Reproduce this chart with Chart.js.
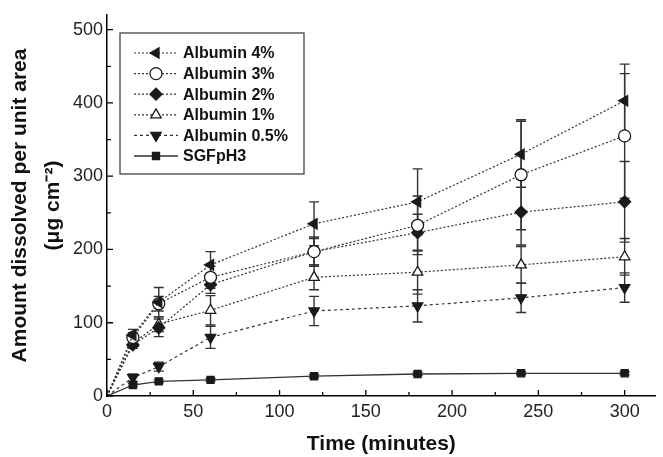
<!DOCTYPE html>
<html>
<head>
<meta charset="utf-8">
<script src="https://cdn.jsdelivr.net/npm/chart.js@4.4.0/dist/chart.umd.min.js"></script>
<style>
  html, body { margin: 0; padding: 0; background: #fff; }
  #wrap { width: 663px; height: 457px; }
</style>
</head>
<body>
<div id="wrap"><canvas id="dissolutionChart" width="663" height="457"></canvas></div>
<script>
// sampling times (minutes)
const times = [0, 15, 30, 60, 120, 180, 240, 300];

const seriesNames = ["Albumin 4%", "Albumin 3%", "Albumin 2%", "Albumin 1%", "Albumin 0.5%", "SGFpH3"];

// amount dissolved per unit area (ug cm-2)
const alb4 = [0, 83, 128, 179, 235, 265, 330, 403];
const alb3 = [0, 80, 126, 162, 197, 233, 302, 355];
const alb2 = [0, 70, 93, 152, 197, 223, 251, 265];
const alb1 = [0, 72, 98, 117, 162, 169, 179, 190];
const alb05 = [0, 25, 40, 80, 116, 123, 134, 148];
const sgf = [0, 15, 20, 22, 27, 30, 31, 31];

// error bar half-heights
const alb4Err = [0, 8, 20, 18, 30, 45, 45, 50];
const alb3Err = [0, 6, 10, 15, 20, 40, 75, 85];
const alb2Err = [0, 5, 12, 12, 18, 25, 45, 55];
const alb1Err = [0, 5, 10, 20, 17, 30, 25, 25];
const alb05Err = [0, 5, 6, 15, 20, 22, 20, 20];
const sgfErr = [0, 2, 2, 2, 2, 2, 2, 2];

const xTicks = [0, 50, 100, 150, 200, 250, 300];
const yTicks = [0, 100, 200, 300, 400, 500];

const ink = "#1a1a1a";
const family = "'Liberation Sans', Arial, sans-serif";

function toPoints(vals) {
  return vals.map((v, i) => ({ x: times[i], y: v }));
}

function makeSet(label, vals, errs, style, rotation, filled, dash) {
  return {
    label: label,
    data: toPoints(vals),
    errors: errs,
    borderColor: "#333",
    borderWidth: dash ? 1.2 : 1.3,
    borderDash: dash || [],
    pointStyle: style,
    rotation: rotation,
    pointRadius: vals.map((v, i) => i === 0 ? 0 : (style === "rect" ? 5 : 6)),
    pointBackgroundColor: filled ? ink : "#fff",
    pointBorderColor: ink,
    pointBorderWidth: 1.3,
    tension: 0,
    fill: false
  };
}

// error bars under the markers
const errorBars = {
  id: "errorBars",
  beforeDatasetsDraw(chart) {
    const { ctx, scales: { x, y } } = chart;
    ctx.save();
    ctx.strokeStyle = "#333";
    ctx.lineWidth = 1.4;
    ctx.setLineDash([]);
    chart.data.datasets.forEach(ds => {
      ds.data.forEach((p, i) => {
        const e = ds.errors[i];
        if (!e) return;
        const px = x.getPixelForValue(p.x);
        const top = y.getPixelForValue(p.y + e);
        const bot = y.getPixelForValue(p.y - e);
        ctx.beginPath();
        ctx.moveTo(px, top); ctx.lineTo(px, bot);
        ctx.moveTo(px - 5, top); ctx.lineTo(px + 5, top);
        ctx.moveTo(px - 5, bot); ctx.lineTo(px + 5, bot);
        ctx.stroke();
      });
    });
    ctx.restore();
  }
};

// inward major + minor ticks
const innerTicks = {
  id: "innerTicks",
  afterDraw(chart) {
    const { ctx, scales: { x, y } } = chart;
    ctx.save();
    ctx.strokeStyle = "#000";
    ctx.lineWidth = 1.3;
    ctx.beginPath();
    for (let v = 0; v <= 300; v += 25) {
      const px = x.getPixelForValue(v);
      const len = v % 50 === 0 ? 6 : 4;
      ctx.moveTo(px, y.bottom); ctx.lineTo(px, y.bottom - len);
    }
    for (let v = 0; v <= 500; v += 50) {
      const py = y.getPixelForValue(v);
      const len = v % 100 === 0 ? 6 : 4;
      ctx.moveTo(x.left, py); ctx.lineTo(x.left + len, py);
    }
    ctx.stroke();
    ctx.restore();
  }
};

// boxed legend inside the plot
const boxLegend = {
  id: "boxLegend",
  afterDraw(chart) {
    const ctx = chart.ctx;
    const left = 120, top = 33, w = 184, h = 141;
    ctx.save();
    ctx.strokeStyle = "#444";
    ctx.lineWidth = 1.3;
    ctx.setLineDash([]);
    ctx.strokeRect(left, top, w, h);
    ctx.font = "bold 16px " + family;
    ctx.textBaseline = "middle";
    chart.data.datasets.forEach((ds, i) => {
      const cy = top + 20 + i * 20.6;
      ctx.strokeStyle = "#333";
      ctx.lineWidth = ds.borderWidth;
      ctx.setLineDash(ds.borderDash);
      ctx.beginPath();
      ctx.moveTo(left + 14, cy); ctx.lineTo(left + 58, cy);
      ctx.stroke();
      ctx.setLineDash([]);
      ctx.fillStyle = ds.pointBackgroundColor;
      ctx.strokeStyle = ds.pointBorderColor;
      ctx.lineWidth = ds.pointBorderWidth;
      Chart.helpers.drawPoint(ctx, {
        pointStyle: ds.pointStyle,
        rotation: ds.rotation,
        radius: ds.pointStyle === "rect" ? 5 : 6,
        borderWidth: ds.pointBorderWidth
      }, left + 36, cy);
      ctx.fillStyle = "#111";
      ctx.fillText(ds.label, left + 63, cy + 1);
    });
    ctx.restore();
  }
};

const ctx = document.getElementById("dissolutionChart").getContext("2d");

new Chart(ctx, {
  type: "line",
  data: {
    datasets: [
      makeSet(seriesNames[0], alb4, alb4Err, "triangle", -90, true, [2, 2]),
      makeSet(seriesNames[1], alb3, alb3Err, "circle", 0, false, [2, 2]),
      makeSet(seriesNames[2], alb2, alb2Err, "rectRot", 0, true, [2, 2]),
      makeSet(seriesNames[3], alb1, alb1Err, "triangle", 0, false, [2, 2]),
      makeSet(seriesNames[4], alb05, alb05Err, "triangle", 180, true, [3, 3]),
      makeSet(seriesNames[5], sgf, sgfErr, "rect", 0, true, null)
    ]
  },
  options: {
    responsive: false,
    devicePixelRatio: 1,
    animation: false,
    layout: { padding: { top: 15, right: 3, left: 0, bottom: 0 } },
    plugins: {
      legend: { display: false },
      tooltip: { enabled: false }
    },
    scales: {
      x: {
        type: "linear",
        min: 0,
        max: 318,
        afterBuildTicks: s => { s.ticks = xTicks.map(v => ({ value: v })); },
        afterFit: s => { s.height = 61; },
        grid: { display: false, drawTicks: false },
        border: { display: true, color: "#000", width: 1.5 },
        ticks: {
          padding: 5,
          color: "#222",
          font: { family: family, size: 18 }
        },
        title: {
          display: true,
          text: "Time (minutes)",
          color: "#111",
          padding: { top: 0, bottom: 0 },
          font: { family: family, size: 21, weight: "bold" }
        }
      },
      y: {
        min: 0,
        max: 520,
        afterBuildTicks: s => { s.ticks = yTicks.map(v => ({ value: v })); },
        afterFit: s => { s.width = 107; },
        grid: { display: false, drawTicks: false },
        border: { display: true, color: "#000", width: 1.5 },
        ticks: {
          padding: 4,
          color: "#222",
          font: { family: family, size: 18 }
        },
        title: {
          display: true,
          text: ["Amount dissolved per unit area", "(\u03bcg cm\u207b\u00b2)"],
          color: "#111",
          padding: { top: 4, bottom: 0 },
          font: { family: family, size: 21, weight: "bold", lineHeight: 1.57 }
        }
      }
    }
  },
  plugins: [errorBars, innerTicks, boxLegend]
});
</script>
</body>
</html>
